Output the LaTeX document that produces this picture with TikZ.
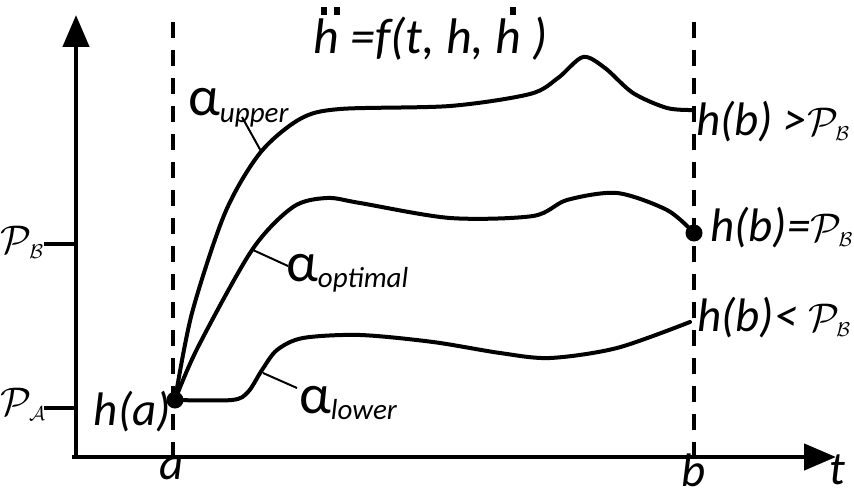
\documentclass[tikz,border=0pt]{standalone}
\usepackage{fix-cm}
\usepackage{fontspec}
\setmainfont{Carlito}
\usetikzlibrary{arrows.meta}
\newcommand\hdd{\makebox[0pt][l]{\hspace{0.16em}\raisebox{0.78em}{\rule{0.12em}{0.15em}\hspace{0.14em}\rule{0.12em}{0.15em}}}h}
\newcommand\hd{\makebox[0pt][l]{\hspace{0.28em}\raisebox{0.78em}{\rule{0.12em}{0.15em}}}h}
\newcommand\Pcal[1]{{\fontsize{40}{40}\selectfont$\mathcal{P}$}\kern-0.06em\raisebox{-0.1em}{\fontsize{20}{20}\selectfont$\mathcal{#1}$}}
\begin{document}
\begin{tikzpicture}[x=1pt,y=-1pt,
  axis/.style={line width=4.5pt,-{Triangle[length=32pt,width=26pt]}},
  guide/.style={line width=3.5pt,dash pattern=on 16pt off 12pt},
  curve/.style={line width=4pt,line cap=round,line join=round},
  leader/.style={line width=2pt},
  tick/.style={line width=4.5pt},
  lbl/.style={inner sep=0pt,font=\fontsize{47}{52}\selectfont\itshape},
  alab/.style={inner sep=0pt,font=\fontsize{56}{60}\selectfont},
  dot/.style={circle,fill=black,inner sep=0pt,minimum size=17pt}]
\useasboundingbox (0,0) rectangle (854,500);
% axes
\coordinate (Ytop) at (76,15);
\coordinate (Xend) at (836,457);
\draw[axis] (76,459) -- (Ytop);
\draw[axis] (72,457) -- (Xend);
% ticks
\coordinate (PBt) at (44,244);
\coordinate (PBa) at (76,244);
\coordinate (PAt) at (44,408);
\coordinate (PAa) at (76,408);
\draw[tick] (PBt) -- (PBa);
\draw[tick] (PAt) -- (PAa);
\node[lbl] (PBl) at (22,242) {\Pcal{B}};
\node[lbl] (PAl) at (23,404) {\Pcal{A}};
% dashed guides
\coordinate (a1) at (173,22);
\coordinate (a2) at (173,457);
\coordinate (b1) at (694,22);
\coordinate (b2) at (694,457);
\draw[guide] (a1) -- (a2);
\draw[guide] (b1) -- (b2);
\node[lbl] (la) at (172,468) {a};
\node[lbl] (lb) at (694,470) {b};
\node[lbl] (lt) at (837,470) {t};
% curves
\draw[curve] plot[smooth,tension=0.5] coordinates {(175,400) (192,313) (225,213) (260,153) (300,119) (340,109) (450,106) (530,94) (558,78) (583,57) (605,68) (633,93) (667,108) (693,110)};
\draw[curve] plot[smooth,tension=0.5] coordinates {(175,400) (198,347) (252,250) (293,207) (327,198) (360,203) (450,218) (533,216) (567,200) (617,193) (667,210) (693,232)};
\draw[curve] plot[smooth,tension=0.5] coordinates {(175,400) (232,400) (248,392) (262,370) (277,350) (303,338) (360,335) (433,342) (500,353) (550,358) (617,348) (690,322)};
% points
\node[dot] (ha) at (175,400) {};
\node[dot] (hb) at (694,233) {};
% labels
\node[lbl,anchor=east] (hal) at (171,412) {h(a)};
\node[lbl,anchor=west] (hb1) at (696,122) {h(b) >\Pcal{B}};
\node[lbl,anchor=west] (hb2) at (710,228) {h(b)=\Pcal{B}};
\node[lbl,anchor=west] (hb3) at (697,318) {h(b)< \Pcal{B}};
\node[lbl,anchor=west,font=\fontsize{50}{54}\selectfont\itshape] (title) at (313,34) {\hdd\ =f(t, h, \hd\ )};
% alpha labels
\node[alab,anchor=base west] (au) at (188,116) {α\textit{\fontsize{29}{32}\selectfont\raisebox{-0.22em}{upper}}};
\node[alab,anchor=base west] (ao) at (286,281) {α\textit{\fontsize{29}{32}\selectfont\raisebox{-0.22em}{optimal}}};
\node[alab,anchor=base west] (al) at (299,413) {α\textit{\fontsize{29}{32}\selectfont\raisebox{-0.22em}{lower}}};
\coordinate (cu) at (262,153);
\coordinate (co) at (253,250);
\coordinate (cl) at (263,373);
\coordinate (eu) at (242,117);
\coordinate (eo) at (288,266);
\coordinate (el) at (297,388);
\draw[leader] (eu) -- (cu);
\draw[leader] (eo) -- (co);
\draw[leader] (el) -- (cl);
\end{tikzpicture}
\end{document}
